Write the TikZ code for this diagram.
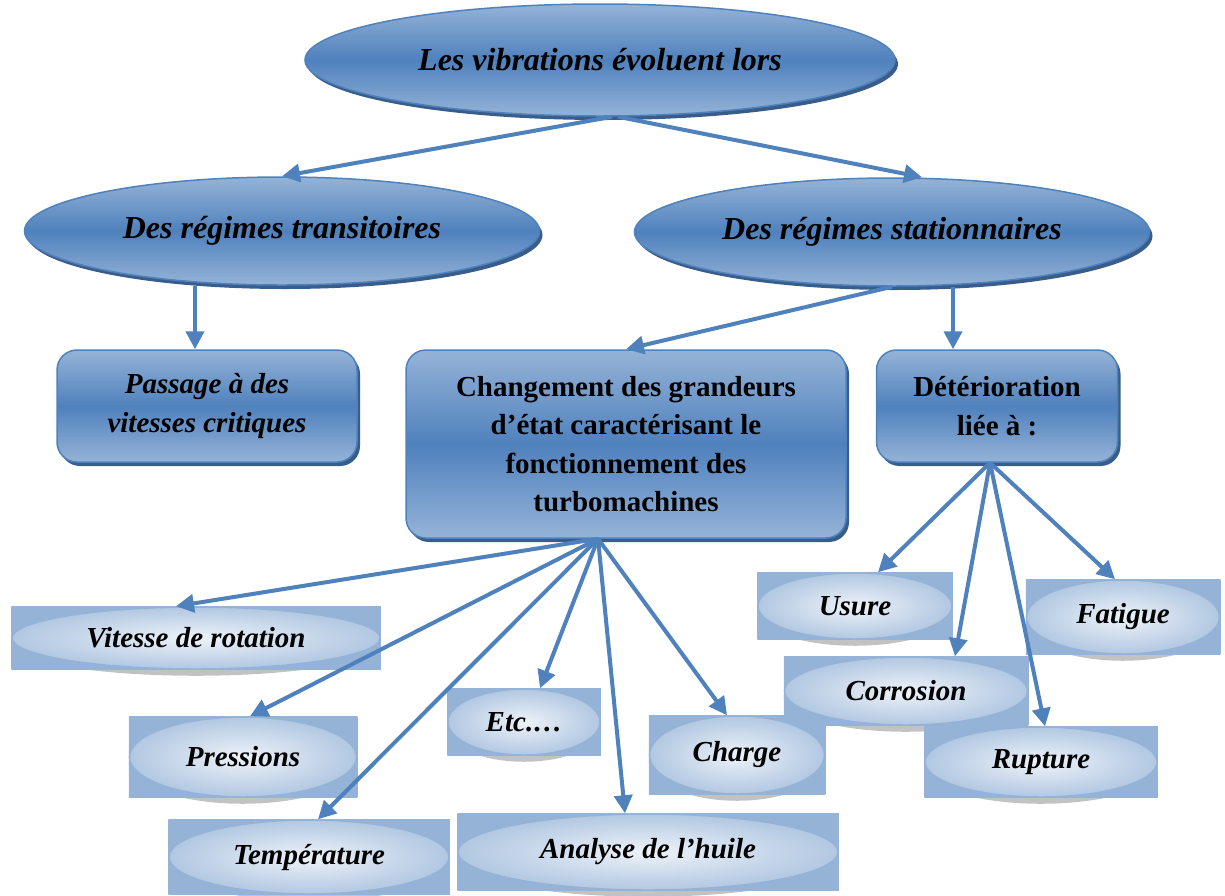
\documentclass[tikz,border=0pt]{standalone}
\usepackage{fontspec}
\setmainfont{Liberation Serif}
\usetikzlibrary{arrows.meta,shapes.geometric,shadows,backgrounds,calc}
\definecolor{bleu}{HTML}{4F81BD}
\definecolor{bleuclair}{HTML}{95B3D7}
\definecolor{bleupale}{HTML}{DCE6F2}
\definecolor{bleuombre}{HTML}{385D8A}
\tikzset{
  fort/.style={draw=bleu, line width=1.5pt, top color=bleuclair, bottom color=bleuclair, middle color=bleu,
    drop shadow={shadow xshift=3pt, shadow yshift=-4pt, fill=bleuombre, opacity=1},
    align=center, inner sep=0pt},
  ovale/.style={fort, ellipse, font=\bfseries\itshape\fontsize{32}{36}\selectfont},
  boite/.style={fort, rectangle, rounded corners=20pt, font=\bfseries\fontsize{29}{38.5}\selectfont},
  feuille/.style={ellipse, draw=bleuclair, line width=1.5pt, inner color=bleupale!50!white,
    outer color=bleuclair!60!bleupale, inner sep=0pt, font=\bfseries\itshape\fontsize{29}{32}\selectfont},
  fleche/.style={draw=bleu, line width=4pt, -{Triangle[length=18pt,width=18pt]}},
}
\begin{document}
\begin{tikzpicture}[x=1pt,y=-1pt]
\useasboundingbox (0,0) rectangle (1225,895);

% niveau 1 et 2
\node[ovale, minimum width=590pt, minimum height=112pt] (vib) at (600,60) {Les vibrations évoluent lors};
\node[ovale, minimum width=515pt, minimum height=108pt] (tra) at (282,231) {Des régimes transitoires};
\node[ovale, minimum width=515pt, minimum height=108pt] (sta) at (892,232) {Des régimes stationnaires};

% boites
\node[boite, minimum width=300pt, minimum height=112pt] (pas) at (207,406) {\itshape Passage à des\\\itshape vitesses critiques};
\node[boite, minimum width=440pt, minimum height=188pt] (chg) at (626,444) {Changement des grandeurs\\d’état caractérisant le\\fonctionnement des\\turbomachines};
\node[boite, minimum width=241pt, minimum height=112pt] (det) at (997,406) {Détérioration\\liée à :};

% grandeurs
\node[feuille, minimum width=368pt, minimum height=62pt] (vit) at (196,638) {Vitesse de rotation};
\node[feuille, minimum width=227pt, minimum height=80pt] (pre) at (243,757) {Pressions};
\node[feuille, minimum width=280pt, minimum height=74pt] (tem) at (309,857) {Température};
\node[feuille, minimum width=152pt, minimum height=66pt] (etc) at (524,722) {Etc.…};
\node[feuille, minimum width=380pt, minimum height=76pt] (ana) at (648,852) {Analyse de l’huile};
\node[feuille, minimum width=175pt, minimum height=78pt] (cha) at (737,755) {Charge};

% deteriorations
\node[feuille, minimum width=194pt, minimum height=66pt] (usu) at (855,606) {Usure};
\node[feuille, minimum width=243pt, minimum height=68pt] (cor) at (906,691) {Corrosion};
\node[feuille, minimum width=232pt, minimum height=70pt] (rup) at (1041,762) {Rupture};
\node[feuille, minimum width=193pt, minimum height=74pt] (fat) at (1123,617) {Fatigue};

\begin{scope}[on background layer]
\foreach \f in {vit,pre,tem,etc,ana,cha,usu,cor,rup,fat}{
  \fill[black!40, opacity=.6] let \p1=(\f.east), \p2=(\f.north), \p3=(\f.center) in
    ([yshift=-6pt]\p3) ellipse ({\x1-\x3} and {\y2-\y3});
  \shade[inner color=bleupale, outer color=bleuclair] (\f.west |- \f.north) rectangle (\f.east |- \f.south);
}
\end{scope}

% fleches
\draw[fleche] ([xshift=12pt]vib.south) -- (tra.north);
\draw[fleche] ([xshift=18pt]vib.south) -- ([xshift=30pt]sta.north);
\draw[fleche] ([xshift=-87pt]tra.south) -- ([xshift=-12pt]pas.north);
\draw[fleche] (sta.south) -- (chg.north);
\draw[fleche] ([xshift=61pt]sta.south) -- ([xshift=-44pt]det.north);

\draw[fleche] ([xshift=-28pt]chg.south) -- ([xshift=-20pt]vit.north);
\draw[fleche] ([xshift=-28pt]chg.south) -- ([xshift=7pt]pre.north);
\draw[fleche] ([xshift=-28pt]chg.south) -- ([xshift=9pt]tem.north);
\draw[fleche] ([xshift=-28pt]chg.south) -- ([xshift=16pt]etc.north);
\draw[fleche] ([xshift=-28pt]chg.south) -- ([xshift=-23pt]ana.north);
\draw[fleche] ([xshift=-28pt]chg.south) -- ([xshift=-10pt]cha.north);

\draw[fleche] ([xshift=-7pt]det.south) -- ([xshift=23pt]usu.north);
\draw[fleche] ([xshift=-7pt]det.south) -- ([xshift=49pt]cor.north);
\draw[fleche] ([xshift=-7pt]det.south) -- ([xshift=4pt]rup.north);
\draw[fleche] ([xshift=-7pt]det.south) -- ([xshift=-8pt]fat.north);
\end{tikzpicture}
\end{document}
